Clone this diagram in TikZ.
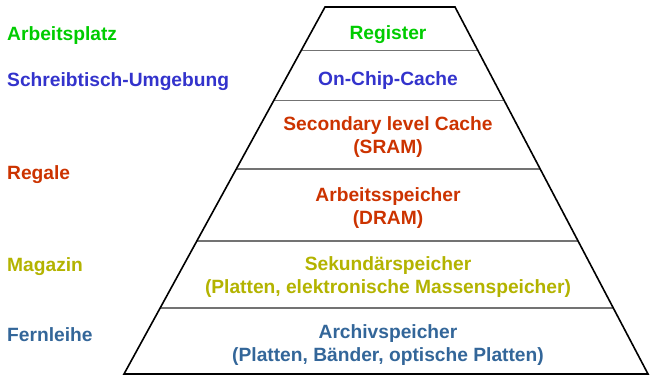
\documentclass[tikz,border=0pt]{standalone}
\usepackage{fontspec}
\setmainfont{Liberation Sans}
\usetikzlibrary{calc}
\definecolor{platzgreen}{RGB}{0,204,0}
\definecolor{tischblue}{RGB}{51,51,204}
\definecolor{regalred}{RGB}{204,51,0}
\definecolor{magazinolive}{RGB}{179,179,0}
\definecolor{leihblue}{RGB}{51,102,153}
\tikzset{
  levellabel/.style={anchor=base west, inner sep=0pt, font=\fontsize{19.2}{23}\selectfont\bfseries},
  leveltext/.style={align=center, inner sep=0pt, font=\fontsize{19.2}{23}\selectfont\bfseries},
  divider/.style={line width=1.3pt, color=black!55}
}
\begin{document}
\begin{tikzpicture}[x=1pt, y=-1pt]
		%%%%% START %%%%%
		\useasboundingbox (0, 0) rectangle (652, 376);
		
		\coordinate (tl) at (325, 7);
		\coordinate (tr) at (455, 7);
		\coordinate (br) at (648, 374);
		\coordinate (bl) at (124, 374);
		
		\foreach \y in {50.7, 100.7, 169, 241, 308}
			\draw[divider] ($(tl)!{(\y-7)/367}!(bl)$) -- ($(tr)!{(\y-7)/367}!(br)$);
		
		\draw[line width=1.6pt, line join=miter] (tl) -- (tr) -- (br) -- (bl) -- cycle;
		
		\node[leveltext, color=platzgreen, anchor=base] (register) at (388, 39.5) {Register};
		\node[leveltext, color=tischblue, anchor=base] (onchip) at (388, 85) {On-Chip-Cache};
		\node[leveltext, color=regalred] (sram) at (388, 137) {Secondary level Cache\\(SRAM)};
		\node[leveltext, color=regalred] (dram) at (388, 208) {Arbeitsspeicher\\(DRAM)};
		\node[leveltext, color=magazinolive] (sekundaer) at (388, 277) {Sekund\"arspeicher\\(Platten, elektronische Massenspeicher)};
		\node[leveltext, color=leihblue] (archiv) at (388, 345) {Archivspeicher\\(Platten, B\"ander, optische Platten)};
		
		\node[levellabel, color=platzgreen] (platz) at (7, 40) {Arbeitsplatz};
		\node[levellabel, color=tischblue] (tisch) at (7, 86) {Schreibtisch-Umgebung};
		\node[levellabel, color=regalred] (regale) at (7, 179) {Regale};
		\node[levellabel, color=magazinolive] (magazin) at (7, 271) {Magazin};
		\node[levellabel, color=leihblue] (fernleihe) at (7, 341) {Fernleihe};
		
		%%%%% END %%%%%
	\end{tikzpicture}
\end{document}
